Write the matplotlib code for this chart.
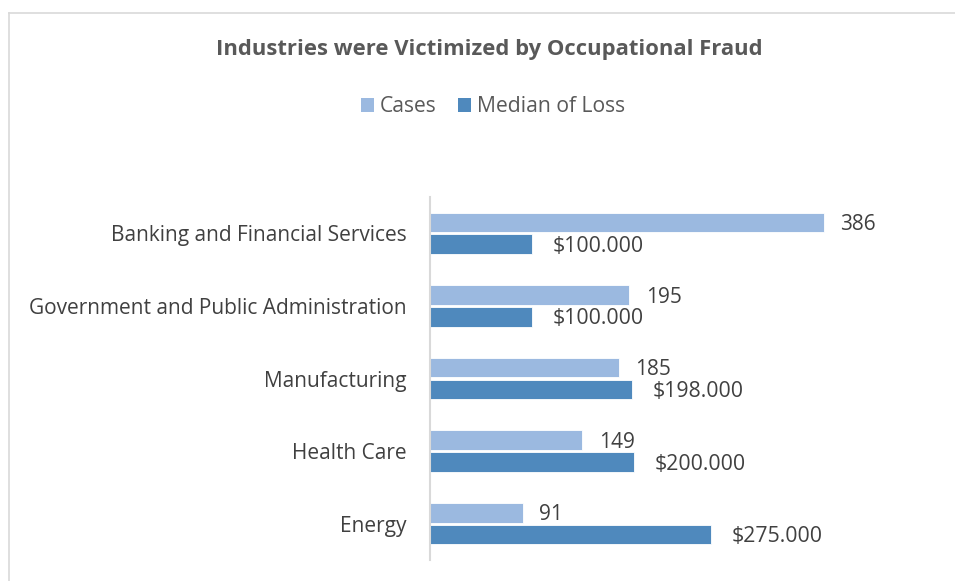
import matplotlib
matplotlib.use("Agg")
import matplotlib.pyplot as plt
from matplotlib.patches import Patch
from matplotlib.lines import Line2D
import numpy as np

categories = ["Banking and Financial Services", "Government and Public Administration",
              "Manufacturing", "Health Care", "Energy"]
cases = [386, 195, 185, 149, 91]
median_loss_thousands = [100, 100, 198, 200, 275]
loss_labels = ["$100.000", "$100.000", "$198.000", "$200.000", "$275.000"]

light = "#9BB9E0"
dark = "#4F89BD"
txt = "#404040"
title_c = "#595959"

plt.rcParams['font.family'] = ['Open Sans', 'DejaVu Sans']

W, H = 955, 581
fig = plt.figure(figsize=(W / 100, H / 100), dpi=100)

# outer chart frame
fig.add_artist(Line2D([9 / W, 9 / W], [0, 1 - 13 / H], color="#D9D9D9", lw=1.2, transform=fig.transFigure))
fig.add_artist(Line2D([9 / W, 1], [1 - 13 / H, 1 - 13 / H], color="#D9D9D9", lw=1.2, transform=fig.transFigure))

ax = fig.add_axes([430 / W, 1 - 560 / H, 510 / W, 363 / H])
y = np.arange(len(categories))
h = 0.27
gap = 0.028
ax.barh(y - h / 2 - gap / 2, cases, height=h, color=light, edgecolor="white", linewidth=0.6)
ax.barh(y + h / 2 + gap / 2, median_loss_thousands, height=h, color=dark, edgecolor="white", linewidth=0.6)

for i in range(len(categories)):
    ax.annotate(str(cases[i]), (cases[i], y[i] - h / 2 - gap / 2), xytext=(12, -1.5),
                textcoords="offset points", va="center", ha="left", fontsize=15, color=txt)
    ax.annotate(loss_labels[i], (median_loss_thousands[i], y[i] + h / 2 + gap / 2), xytext=(15, -1.5),
                textcoords="offset points", va="center", ha="left", fontsize=15.3, color=txt)

ax.set_xlim(0, 500)
ax.set_ylim(len(categories) - 0.5, -0.5)
ax.set_yticks(y)
ax.set_yticklabels(categories, fontsize=15.0, color=txt)
ax.tick_params(axis="y", length=0, pad=17)
ax.set_xticks([])
for s in ["top", "right", "bottom"]:
    ax.spines[s].set_visible(False)
ax.spines["left"].set_color("#D9D9D9")
ax.spines["left"].set_linewidth(1.5)

fig.text(489 / W, 1 - 50 / H, "Industries were Victimized by Occupational Fraud",
         ha="center", va="center", fontsize=15.8, fontweight="bold", color=title_c)

handles = [Patch(facecolor=light, label="Cases"), Patch(facecolor=dark, label="Median of Loss")]
fig.legend(handles=handles, loc="center", bbox_to_anchor=(493 / W, 1 - 107 / H), ncol=2,
           frameon=False, fontsize=15.2, labelcolor=title_c, handlelength=0.6, handleheight=0.6,
           handletextpad=0.3, columnspacing=1.0)

fig.savefig("out.png", dpi=100)
